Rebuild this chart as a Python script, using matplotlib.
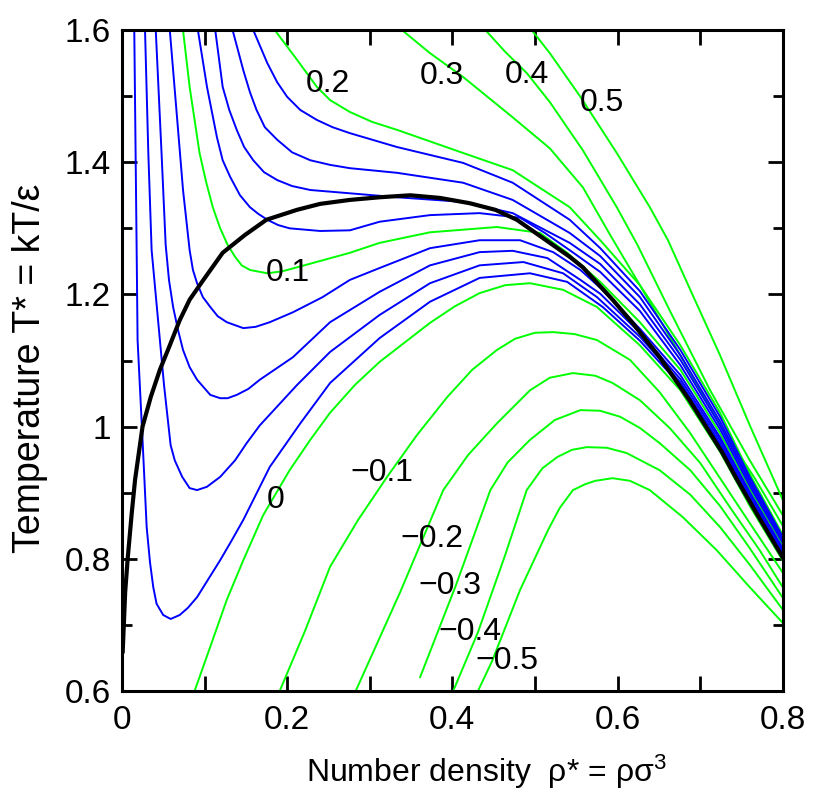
import matplotlib
matplotlib.use("Agg")
import matplotlib.pyplot as plt
from matplotlib.ticker import MultipleLocator

plt.rcParams['font.family'] = ['Liberation Sans', 'DejaVu Sans']
plt.rcParams['mathtext.fontset'] = 'custom'
plt.rcParams['mathtext.rm'] = 'Liberation Sans'
plt.rcParams['mathtext.it'] = 'Liberation Sans'

# liquid-vapour coexistence curve
rho_coex = [0.001, 0.004, 0.007, 0.012, 0.016, 0.025, 0.035, 0.046, 0.058, 0.070, 0.082, 0.097,
            0.122, 0.149, 0.175, 0.212, 0.240, 0.276, 0.312, 0.349, 0.385, 0.421, 0.452, 0.478,
            0.518, 0.542, 0.558, 0.594, 0.618, 0.651, 0.687, 0.727, 0.744, 0.770, 0.800]
T_coex = [0.660, 0.750, 0.800, 0.870, 0.920, 1.000, 1.045, 1.086, 1.123, 1.161, 1.192, 1.219,
          1.263, 1.290, 1.313, 1.328, 1.337, 1.343, 1.347, 1.350, 1.346, 1.338, 1.328, 1.313,
          1.278, 1.257, 1.241, 1.192, 1.157, 1.105, 1.040, 0.960, 0.921, 0.865, 0.802]

# isobars P* = 0.5 ... -0.5 (green, labelled)
rho_p50 = [0.496, 0.518, 0.555, 0.599, 0.639, 0.661, 0.688, 0.724, 0.760, 0.800]
T_p50 = [1.600, 1.565, 1.499, 1.414, 1.332, 1.282, 1.207, 1.108, 1.002, 0.889]

rho_p40 = [0.440, 0.464, 0.490, 0.518, 0.558, 0.599, 0.624, 0.663, 0.712, 0.760, 0.800]
T_p40 = [1.600, 1.567, 1.535, 1.491, 1.418, 1.332, 1.275, 1.176, 1.055, 0.949, 0.866]

rho_p30 = [0.339, 0.373, 0.413, 0.473, 0.518, 0.558, 0.591, 0.627, 0.676, 0.724, 0.766, 0.800]
T_p30 = [1.600, 1.565, 1.529, 1.468, 1.421, 1.362, 1.290, 1.214, 1.108, 1.002, 0.922, 0.850]

rho_p20 = [0.185, 0.212, 0.236, 0.252, 0.276, 0.303, 0.333, 0.413, 0.473, 0.542, 0.579, 0.627,
           0.676, 0.724, 0.760, 0.800]
T_p20 = [1.600, 1.555, 1.514, 1.494, 1.476, 1.461, 1.449, 1.414, 1.388, 1.332, 1.282, 1.214,
         1.123, 1.021, 0.928, 0.836]

rho_p10 = [0.074, 0.082, 0.094, 0.102, 0.110, 0.119, 0.128, 0.137, 0.145, 0.155, 0.176, 0.194,
           0.212, 0.276, 0.312, 0.373, 0.454, 0.506, 0.539, 0.579, 0.627, 0.676, 0.724, 0.760,
           0.800]
T_p10 = [1.600, 1.514, 1.414, 1.370, 1.332, 1.300, 1.275, 1.257, 1.244, 1.237, 1.232, 1.235,
         1.241, 1.263, 1.278, 1.294, 1.302, 1.293, 1.263, 1.219, 1.158, 1.086, 0.990, 0.906,
         0.821]

rho_p00 = [0.088, 0.107, 0.127, 0.147, 0.171, 0.203, 0.228, 0.252, 0.282, 0.312, 0.373, 0.403,
           0.433, 0.464, 0.494, 0.534, 0.575, 0.627, 0.676, 0.724, 0.760, 0.800]
T_p00 = [0.600, 0.667, 0.738, 0.798, 0.866, 0.934, 0.980, 1.021, 1.063, 1.098, 1.157, 1.182,
         1.202, 1.214, 1.217, 1.207, 1.181, 1.123, 1.055, 0.962, 0.880, 0.797]

rho_m10 = [0.191, 0.222, 0.252, 0.286, 0.321, 0.357, 0.394, 0.424, 0.454, 0.476, 0.500, 0.522,
           0.548, 0.575, 0.615, 0.651, 0.688, 0.724, 0.760, 0.800]
T_m10 = [0.600, 0.692, 0.788, 0.859, 0.924, 0.987, 1.045, 1.086, 1.116, 1.133, 1.142, 1.143,
         1.140, 1.131, 1.101, 1.052, 0.990, 0.922, 0.854, 0.779]

rho_m20 = [0.283, 0.337, 0.389, 0.419, 0.454, 0.494, 0.518, 0.546, 0.573, 0.594, 0.627, 0.663,
           0.700, 0.736, 0.772, 0.800]
T_m20 = [0.600, 0.750, 0.904, 0.957, 1.005, 1.055, 1.074, 1.081, 1.077, 1.066, 1.040, 0.998,
         0.945, 0.878, 0.813, 0.757]

rho_m30 = [0.361, 0.404, 0.446, 0.467, 0.494, 0.524, 0.555, 0.579, 0.603, 0.627, 0.651, 0.688,
           0.724, 0.760, 0.800]
T_m30 = [0.621, 0.759, 0.904, 0.946, 0.980, 1.010, 1.025, 1.024, 1.015, 0.998, 0.975, 0.934,
         0.880, 0.816, 0.741]

rho_m40 = [0.401, 0.431, 0.464, 0.490, 0.509, 0.527, 0.545, 0.563, 0.587, 0.611, 0.651, 0.688,
           0.724, 0.760, 0.800]
T_m40 = [0.600, 0.689, 0.806, 0.904, 0.937, 0.954, 0.965, 0.969, 0.968, 0.960, 0.934, 0.897,
         0.848, 0.791, 0.723]

rho_m50 = [0.431, 0.448, 0.482, 0.516, 0.530, 0.546, 0.561, 0.573, 0.594, 0.615, 0.639, 0.679,
           0.720, 0.760, 0.800]
T_m50 = [0.600, 0.645, 0.753, 0.844, 0.877, 0.904, 0.913, 0.918, 0.922, 0.918, 0.904, 0.863,
         0.813, 0.757, 0.703]

# intermediate isobars (blue, unlabelled)
rho_p18 = [0.159, 0.176, 0.188, 0.200, 0.216, 0.236, 0.255, 0.276, 0.333, 0.413, 0.473, 0.542,
           0.579, 0.627, 0.676, 0.724, 0.760, 0.800]
T_p18 = [1.600, 1.550, 1.521, 1.499, 1.479, 1.464, 1.453, 1.444, 1.423, 1.399, 1.369, 1.313,
         1.270, 1.205, 1.116, 1.015, 0.924, 0.833]

rho_p16 = [0.134, 0.147, 0.155, 0.163, 0.173, 0.188, 0.206, 0.228, 0.252, 0.276, 0.333, 0.413,
           0.473, 0.542, 0.579, 0.627, 0.676, 0.724, 0.760, 0.800]
T_p16 = [1.600, 1.539, 1.506, 1.479, 1.453, 1.434, 1.415, 1.403, 1.396, 1.391, 1.384, 1.369,
         1.343, 1.293, 1.258, 1.196, 1.108, 1.008, 0.919, 0.830]

rho_p14 = [0.113, 0.122, 0.130, 0.139, 0.148, 0.159, 0.172, 0.188, 0.206, 0.228, 0.276, 0.333,
           0.413, 0.473, 0.542, 0.579, 0.627, 0.676, 0.724, 0.760, 0.800]
T_p14 = [1.600, 1.514, 1.479, 1.449, 1.423, 1.403, 1.385, 1.373, 1.364, 1.358, 1.353, 1.347,
         1.340, 1.323, 1.278, 1.246, 1.185, 1.101, 1.002, 0.915, 0.827]

rho_p12 = [0.092, 0.103, 0.115, 0.122, 0.131, 0.143, 0.155, 0.165, 0.176, 0.189, 0.203, 0.240,
           0.276, 0.312, 0.373, 0.433, 0.482, 0.512, 0.542, 0.579, 0.627, 0.676, 0.724, 0.760,
           0.800]
T_p12 = [1.600, 1.514, 1.438, 1.403, 1.378, 1.350, 1.332, 1.322, 1.313, 1.305, 1.300, 1.296,
         1.297, 1.310, 1.320, 1.323, 1.316, 1.293, 1.267, 1.234, 1.175, 1.093, 0.996, 0.910,
         0.824]

rho_p08 = [0.058, 0.067, 0.074, 0.082, 0.086, 0.091, 0.098, 0.107, 0.116, 0.127, 0.147, 0.162,
           0.179, 0.207, 0.243, 0.276, 0.312, 0.373, 0.433, 0.482, 0.522, 0.555, 0.579, 0.627,
           0.676, 0.724, 0.760, 0.800]
T_p08 = [1.600, 1.464, 1.358, 1.267, 1.237, 1.217, 1.196, 1.181, 1.167, 1.158, 1.149, 1.151,
         1.158, 1.173, 1.196, 1.222, 1.240, 1.270, 1.282, 1.282, 1.264, 1.237, 1.210, 1.148,
         1.078, 0.984, 0.901, 0.816]

rho_p06 = [0.041, 0.048, 0.053, 0.057, 0.062, 0.068, 0.074, 0.082, 0.091, 0.107, 0.119, 0.128,
           0.139, 0.153, 0.167, 0.207, 0.252, 0.312, 0.373, 0.433, 0.473, 0.515, 0.555, 0.579,
           0.627, 0.676, 0.724, 0.760, 0.800]
T_p06 = [1.600, 1.414, 1.275, 1.222, 1.181, 1.146, 1.116, 1.090, 1.071, 1.048, 1.043, 1.043,
         1.048, 1.057, 1.071, 1.105, 1.158, 1.204, 1.244, 1.264, 1.266, 1.255, 1.222, 1.201,
         1.142, 1.072, 0.980, 0.897, 0.813]

rho_p04 = [0.028, 0.032, 0.036, 0.046, 0.051, 0.056, 0.059, 0.064, 0.073, 0.082, 0.091, 0.103,
           0.119, 0.137, 0.151, 0.167, 0.212, 0.252, 0.312, 0.373, 0.433, 0.486, 0.534, 0.575,
           0.627, 0.676, 0.724, 0.760, 0.800]
T_p04 = [1.600, 1.414, 1.267, 1.131, 1.063, 1.006, 0.972, 0.949, 0.924, 0.907, 0.904, 0.909,
         0.924, 0.949, 0.975, 1.002, 1.063, 1.113, 1.169, 1.217, 1.244, 1.249, 1.232, 1.196,
         1.136, 1.067, 0.975, 0.893, 0.810]

rho_p02 = [0.015, 0.018, 0.019, 0.025, 0.030, 0.034, 0.038, 0.042, 0.050, 0.059, 0.070, 0.080,
           0.091, 0.104, 0.119, 0.133, 0.147, 0.179, 0.216, 0.252, 0.312, 0.373, 0.433, 0.494,
           0.539, 0.582, 0.627, 0.676, 0.724, 0.760, 0.800]
T_p02 = [1.600, 1.252, 1.131, 0.980, 0.848, 0.795, 0.757, 0.732, 0.715, 0.709, 0.715, 0.726,
         0.742, 0.768, 0.798, 0.828, 0.859, 0.939, 1.005, 1.066, 1.134, 1.189, 1.225, 1.232,
         1.219, 1.181, 1.130, 1.063, 0.971, 0.889, 0.806]

green_isobars = [(rho_p50, T_p50), (rho_p40, T_p40), (rho_p30, T_p30), (rho_p20, T_p20),
                 (rho_p10, T_p10), (rho_p00, T_p00), (rho_m10, T_m10), (rho_m20, T_m20),
                 (rho_m30, T_m30), (rho_m40, T_m40), (rho_m50, T_m50)]
blue_isobars = [(rho_p18, T_p18), (rho_p16, T_p16), (rho_p14, T_p14), (rho_p12, T_p12),
                (rho_p08, T_p08), (rho_p06, T_p06), (rho_p04, T_p04), (rho_p02, T_p02)]

# pressure labels and where they sit
label_text = ['0.5', '0.4', '0.3', '0.2', '0.1', '0', '\u22120.1', '\u22120.2', '\u22120.3',
              '\u22120.4', '\u22120.5']
label_rho = [0.581, 0.490, 0.387, 0.249, 0.201, 0.186, 0.315, 0.375, 0.397, 0.421, 0.466]
label_T = [1.490, 1.532, 1.530, 1.518, 1.232, 0.889, 0.930, 0.830, 0.759, 0.689, 0.645]

fig = plt.figure(figsize=(8.18, 8.01), dpi=100)
ax = fig.add_axes([0.149, 0.1373, 0.808, 0.8252])

for rho, T in green_isobars:
    ax.plot(rho, T, color='#00ff00', lw=1.4, zorder=2)
for rho, T in blue_isobars:
    ax.plot(rho, T, color='#0000ff', lw=1.4, zorder=2)
ax.plot(rho_coex, T_coex, color='black', lw=3, zorder=3)

for s, x, y in zip(label_text, label_rho, label_T):
    ax.text(x, y, s, fontsize=23, ha='center', va='center', zorder=4)

ax.set_xlim(0, 0.8)
ax.set_ylim(0.6, 1.6)
ax.set_xticks([0, 0.2, 0.4, 0.6, 0.8])
ax.set_xticklabels(['0', '0.2', '0.4', '0.6', '0.8'])
ax.set_yticks([0.6, 0.8, 1.0, 1.2, 1.4, 1.6])
ax.set_yticklabels(['0.6', '0.8', '1', '1.2', '1.4', '1.6'])
ax.xaxis.set_minor_locator(MultipleLocator(0.1))
ax.yaxis.set_minor_locator(MultipleLocator(0.1))
ax.tick_params(which='both', direction='in', top=True, right=True, width=2, labelsize=24)
ax.tick_params(which='major', length=11)
ax.tick_params(axis='x', which='minor', length=11)
ax.tick_params(axis='y', which='minor', length=7)
ax.tick_params(axis='x', pad=10)
ax.tick_params(axis='y', pad=8)
for sp in ax.spines.values():
    sp.set_linewidth(2.2)

fig.text(0.594, 0.036, 'Number density  \u03c1* = \u03c1\u03c3$^{3}$', fontsize=23,
         ha='center', va='center')
fig.text(0.037, 0.54, 'Temperature T* = kT/\u03b5', fontsize=27, rotation=90,
         ha='center', va='center')

fig.savefig('out.png', dpi=100)
